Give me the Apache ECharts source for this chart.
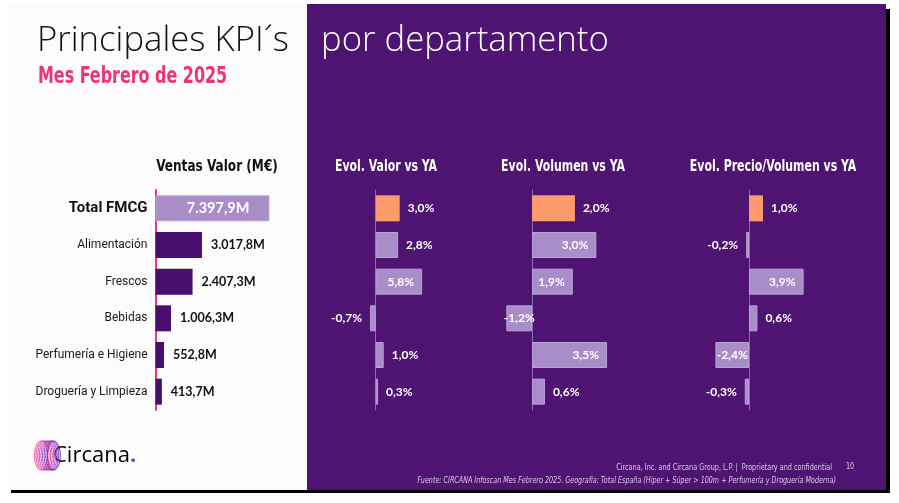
<!DOCTYPE html>
<html>
<head>
<meta charset="utf-8">
<script src="https://cdn.jsdelivr.net/npm/echarts@6/dist/echarts.min.js"></script>
<style>
html, body { margin: 0; padding: 0; background: #ffffff; }
#main { width: 899px; height: 503px; }
</style>
</head>
<body>
<div id="main"></div>
<script>
// datos del gráfico
var categorias = ['Total FMCG', 'Alimentación', 'Frescos', 'Bebidas', 'Perfumería e Higiene', 'Droguería y Limpieza'];
var ventasValor = [7397.9, 3017.8, 2407.3, 1006.3, 552.8, 413.7];   // M€
var evolValor = [3.0, 2.8, 5.8, -0.7, 1.0, 0.3];                   // %
var evolVolumen = [2.0, 3.0, 1.9, -1.2, 3.5, 0.6];                 // %
var evolPrecio = [1.0, -0.2, 3.9, 0.6, -2.4, -0.3];                // %
var titulos = ['Ventas Valor (M€)', 'Evol. Valor vs YA', 'Evol. Volumen vs YA', 'Evol. Precio/Volumen vs YA'];

var MORADO = '#4f1472';
var MORADO_BARRA = '#4a0f6e';
var LAVANDA = '#a98dc8';
var NARANJA = '#fc9b6c';
var ROSA = '#ee3379';
var COND = '"DejaVu Sans Condensed", "Roboto", sans-serif';
var ROBOTO = 'Roboto, sans-serif';
var NUM = 'Lato, "Open Sans", sans-serif';

function fmtNum(v, dec) {
    var s = Math.abs(v).toFixed(dec).split('.');
    var ent = s[0].replace(/\B(?=(\d{3})+(?!\d))/g, '.');
    return (v < 0 ? '-' : '') + ent + (dec > 0 ? ',' + s[1] : '');
}

// rejillas: [left, width, min, max]
var rejillas = [
    [155.5, 154, 0, 10000],
    [359.7, 80, -2, 8],
    [489.2, 150, -2, 5],
    [707, 112, -3, 5]
];

function datosVentas() {
    return ventasValor.map(function (v, i) {
        if (i === 0) {
            return {
                value: v,
                itemStyle: { color: LAVANDA, borderColor: '#b9a3d6', borderWidth: 1 },
                label: { position: 'insideRight', distance: 20, color: '#ffffff', fontSize: 14.5 }
            };
        }
        return { value: v, itemStyle: { color: MORADO_BARRA }, label: { position: 'right', distance: 9, color: '#111111' } };
    });
}

function datosEvol(valores, pxPorUnidad) {
    return valores.map(function (v, i) {
        var largo = Math.abs(v) * pxPorUnidad;
        var pos, dist = 8;
        if (i === 0 || largo < 25) {
            pos = v >= 0 ? 'right' : 'left';
        } else if (largo < 38) {
            pos = 'inside';
        } else {
            pos = v >= 0 ? 'insideRight' : 'insideLeft';
        }
        return {
            value: v,
            itemStyle: i === 0 ? { color: NARANJA } : { color: LAVANDA, borderColor: '#b9a3d6', borderWidth: 1 },
            label: { position: pos, distance: dist }
        };
    });
}

var myChart = echarts.init(document.getElementById('main'));

var grids = [], xAxes = [], yAxes = [], series = [];
var evols = [evolValor, evolVolumen, evolPrecio];

rejillas.forEach(function (r, g) {
    grids.push({ left: r[0], top: 190, width: r[1], height: 220, containLabel: false });
    xAxes.push({ type: 'value', gridIndex: g, min: r[2], max: r[3], show: false });
    yAxes.push({
        type: 'category', gridIndex: g, data: categorias, inverse: true,
        axisTick: { show: false },
        axisLine: { show: true, onZero: true, lineStyle: { color: g === 0 ? ROSA : '#8a6bb0', width: g === 0 ? 2 : 1 } },
        axisLabel: g === 0 ? {
            show: true, margin: 8,
            formatter: function (val, idx) { return idx === 0 ? '{t|' + val + '}' : '{c|' + val + '}'; },
            rich: {
                t: { fontFamily: ROBOTO, fontWeight: 'bold', fontSize: 15, color: '#111111' },
                c: { fontFamily: ROBOTO, fontSize: 12, color: '#1a1a1a' }
            }
        } : { show: false },
        splitLine: { show: false }
    });
    var pxPorUnidad = r[1] / (r[3] - r[2]);
    series.push({
        type: 'bar', xAxisIndex: g, yAxisIndex: g, barWidth: 26,
        data: g === 0 ? datosVentas() : datosEvol(evols[g - 1], pxPorUnidad),
        label: {
            show: true, fontFamily: NUM, fontWeight: 'bold', fontSize: g === 0 ? 12.5 : 12,
            color: g === 0 ? '#111111' : '#ffffff',
            formatter: g === 0
                ? function (p) { return fmtNum(p.value, 1) + 'M'; }
                : function (p) { return fmtNum(p.value, 1) + '%'; }
        },
        emphasis: { disabled: true }
    });
});

// logo: anillos
var anillos = [];
var coloresAnillo = ['#f2559e', '#ea4fa6', '#de4aae', '#cf48b6', '#bd46bc', '#a943c0', '#953ebf', '#8036b8', '#6c2cac'];
coloresAnillo.forEach(function (c, i) {
    anillos.push({
        type: 'ellipse', silent: true, z: 5,
        shape: { cx: 41 + i * 1.6, cy: 455.5, rx: 6.5, ry: 14.5 },
        style: { fill: 'none', stroke: c, lineWidth: 1 }
    });
});

function texto(x, y, t, font, fill, align, sx) {
    return {
        type: 'text', z: 5, silent: true, x: x, y: y, scaleX: sx || 1,
        style: { x: 0, y: 0, text: t, font: font, fill: fill, align: align, verticalAlign: 'middle' }
    };
}

var graficos = [
    // sombra y fondos
    { type: 'rect', z: -10, silent: true, shape: { x: 11, y: 9, width: 879, height: 484 }, style: { fill: '#000000' } },
    { type: 'rect', z: -9, silent: true, shape: { x: 7, y: 4, width: 300, height: 486 }, style: { fill: '#fcfcfc' } },
    { type: 'rect', z: -9, silent: true, shape: { x: 307, y: 4, width: 579, height: 486 }, style: { fill: MORADO } },
    // títulos principales
    texto(37, 41, 'Principales KPI´s', '300 34px "Open Sans", Lato, sans-serif', '#111111', 'left', 1.02),
    texto(321, 41, 'por departamento', '300 34px "Open Sans", Lato, sans-serif', '#ffffff', 'left', 1.02),
    texto(38, 77, 'Mes Febrero de 2025', 'bold 23px ' + COND, ROSA, 'left', 0.77),
    // pie
    texto(832, 467.5, 'Circana, Inc. and Circana Group, L.P. |  Proprietary and confidential', '9px ' + COND, '#d9cce8', 'right', 0.8),
    texto(846, 467, '10', '9px ' + COND, '#d9cce8', 'left', 0.8),
    texto(836, 481, 'Fuente: CIRCANA Infoscan Mes Febrero 2025. Geografía: Total España (Híper + Súper > 100m + Perfumería y Droguería Moderna)', 'italic 9px ' + COND, '#d9cce8', 'right', 0.79),
    // logo texto
    {
        type: 'text', z: 5, silent: true, x: 53, y: 456,
        style: {
            x: 0, y: 0, text: 'Circana{p|.}', align: 'left', verticalAlign: 'middle',
            font: '22px "Open Sans", sans-serif', fill: '#000000',
            rich: { p: { font: 'bold 22px "Open Sans", sans-serif', fill: '#8a2fd0' } }
        }
    }
];

var centrosTitulo = [217, 386, 563, 773];
titulos.forEach(function (t, i) {
    graficos.push(texto(centrosTitulo[i], 167, t, 'bold 16px ' + COND, i === 0 ? '#111111' : '#ffffff', 'center', i === 0 ? 0.84 : 0.76));
});

var initOption = {
    backgroundColor: '#ffffff',
    animation: false,
    grid: grids,
    xAxis: xAxes,
    yAxis: yAxes,
    series: series,
    graphic: graficos.concat(anillos)
};
myChart.setOption(initOption);
</script>
</body>
</html>
